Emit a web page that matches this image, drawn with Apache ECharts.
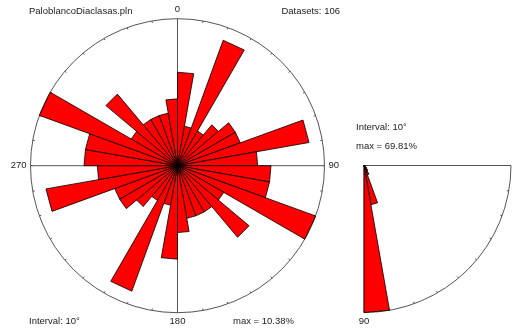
<!DOCTYPE html>
<html>
<head>
<meta charset="utf-8">
<script src="https://cdn.jsdelivr.net/npm/echarts@6/dist/echarts.min.js"></script>
<style>html,body{margin:0;padding:0;background:#fff}#c{width:515px;height:328px}</style>
</head>
<body>
<div id="c"></div>
<script>
// ---- data ----
const fileName = 'PaloblancoDiaclasas.pln';
const datasetsLabel = 'Datasets: 106';
const roseInterval = 'Interval: 10\u00b0';
const roseMaxLabel = 'max = 10.38%';
const dipInterval = 'Interval: 10\u00b0';
const dipMaxLabel = 'max = 69.81%';
const roseAxisLabels = ['0', '90', '180', '270'];
const dipAxisLabels = ['90'];
// strike sectors (start angle, degrees) and percent per sector
const roseSectorStart = [0,10,20,30,40,50,60,70,80,90,100,110,120,130,140,150,160,170,
                         180,190,200,210,220,230,240,250,260,270,280,290,300,310,320,330,340,350];
const rosePercent = [6.60,2.83,9.43,2.83,3.77,4.72,4.72,9.43,5.66,6.60,6.60,10.38,3.77,6.60,3.77,3.77,3.77,4.72,
                     6.60,2.83,9.43,2.83,3.77,4.72,4.72,9.43,5.66,6.60,6.60,10.38,3.77,6.60,3.77,3.77,3.77,4.72];
const roseMax = 10.38;
// dip sectors (start angle) and percent
const dipSectorStart = [0,10,20,30,40,50,60,70,80];
const dipPercent = [0,0,0.94,0.94,1.89,2.83,4.72,18.87,69.81];
const dipMax = 69.81;
const sectorWidth = 10;

const roseData = roseSectorStart.map((a, i) => [rosePercent[i], a, a + sectorWidth]);
const dipData = dipSectorStart.map((a, i) => [dipPercent[i], a, a + sectorWidth]);

function wedge(params, api) {
  const r = api.value(0), a0 = api.value(1), a1 = api.value(2);
  if (!r) return null;
  const c = api.coord([0, a0]);
  const p1 = api.coord([r, a0]);
  const p2 = api.coord([r, a1]);
  return {type: 'polygon', shape: {points: [c, p1, p2]},
          style: {fill: '#ff0000', stroke: '#000', lineWidth: 0.8}};
}

const FONT = "'Liberation Sans', Arial, sans-serif";
const txt = {fontFamily: FONT, fontSize: 9.5, color: '#222'};
const T = 'rgba(0,0,0,0)';
const splitColors = ['#555', T, T, T, T, T, T, T, T];

const chart = echarts.init(document.getElementById('c'), null, {renderer: 'canvas'});
chart.setOption({
  animation: false,
  backgroundColor: '#fff',
  polar: [
    {center: [177.5, 165.7], radius: 147},
    {center: [364, 165.5], radius: 147}
  ],
  angleAxis: [
    {polarIndex: 0, type: 'value', min: 0, max: 360, interval: 10, startAngle: 90, clockwise: true,
     axisLine: {show: true, lineStyle: {color: '#555', width: 1}},
     axisTick: {show: true, inside: true, length: 2, lineStyle: {color: '#555'}},
     axisLabel: {show: true, margin: 4, ...txt,
       formatter: v => (v % 90 === 0 && v < 360) ? roseAxisLabels[v / 90] : ''},
     splitLine: {show: true, lineStyle: {color: splitColors, width: 1}}},
    {polarIndex: 1, type: 'value', min: 0, max: 90, interval: 10, startAngle: 0, endAngle: -90, clockwise: true,
     axisLine: {show: true, lineStyle: {color: '#555', width: 1}},
     axisTick: {show: true, inside: true, length: 2, lineStyle: {color: '#555'}},
     axisLabel: {show: true, margin: 4, ...txt,
       formatter: v => v === 90 ? dipAxisLabels[0] : ''},
     splitLine: {show: true, lineStyle: {color: splitColors, width: 1}}}
  ],
  radiusAxis: [
    {polarIndex: 0, type: 'value', min: 0, max: roseMax, show: false},
    {polarIndex: 1, type: 'value', min: 0, max: dipMax, show: false}
  ],
  series: [
    {type: 'custom', coordinateSystem: 'polar', polarIndex: 0, renderItem: wedge, data: roseData,
     encode: {radius: 0, angle: 1}, clip: false, silent: true},
    {type: 'custom', coordinateSystem: 'polar', polarIndex: 1, renderItem: wedge, data: dipData,
     encode: {radius: 0, angle: 1}, clip: false, silent: true}
  ],
  graphic: [
    {type: 'text', left: 29, top: 6, style: {text: fileName, font: '9.5px ' + FONT, fill: '#222'}},
    {type: 'text', right: 175, top: 6, style: {text: datasetsLabel, font: '9.5px ' + FONT, fill: '#222'}},
    {type: 'text', left: 29, top: 316, style: {text: roseInterval, font: '9.5px ' + FONT, fill: '#222'}},
    {type: 'text', left: 233, top: 316, style: {text: roseMaxLabel, font: '9.5px ' + FONT, fill: '#222'}},
    {type: 'text', left: 356, top: 122, style: {text: dipInterval, font: '9.5px ' + FONT, fill: '#222'}},
    {type: 'text', left: 356, top: 141, style: {text: dipMaxLabel, font: '9.5px ' + FONT, fill: '#222'}}
  ]
});
</script>
</body>
</html>
